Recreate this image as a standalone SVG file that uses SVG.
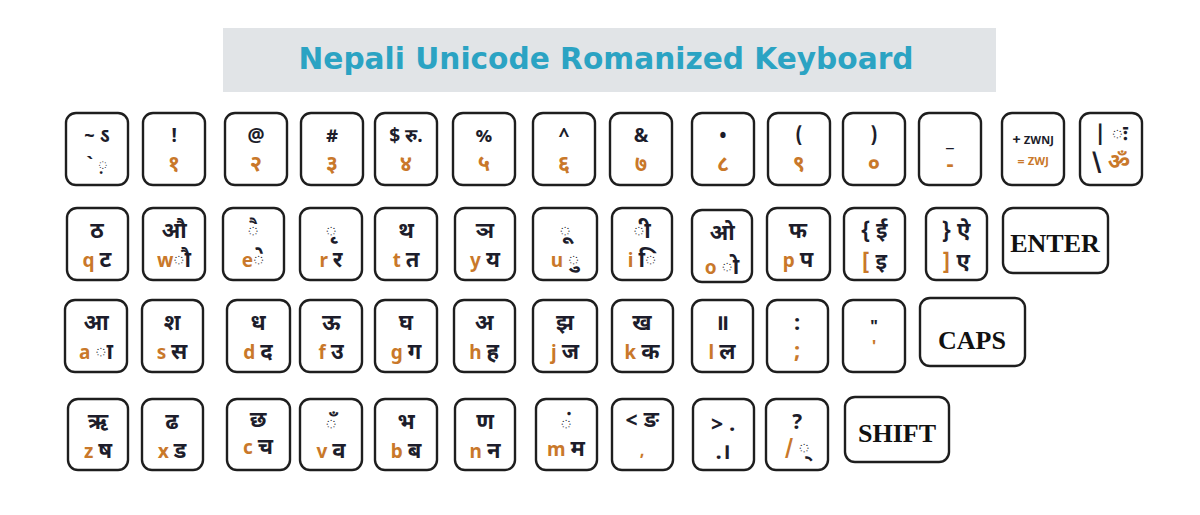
<svg xmlns="http://www.w3.org/2000/svg" width="1200" height="515" viewBox="0 0 1200 515">
<style>
.k{fill:#fff;stroke:#1e1e1e;stroke-width:2.4}
.t{font-family:"Noto Sans Devanagari","Noto Sans","DejaVu Sans",sans-serif;font-size:22px;font-weight:bold;fill:#1d1d2b;text-anchor:middle}
.s{font-size:19px}
.o{fill:#c9782a}
.big{font-family:"Liberation Serif",serif;font-size:26px;font-weight:bold;fill:#111;text-anchor:middle}
.title{font-family:"DejaVu Sans",sans-serif;font-size:30px;font-weight:bold;fill:#2ba3c3;text-anchor:middle}
</style>
<rect width="1200" height="515" fill="#fff"/>
<g id="title">
<rect x="223" y="28" width="773" height="64" fill="#e1e4e7"/>
<text class="title" x="606" y="69" textLength="615" lengthAdjust="spacingAndGlyphs">Nepali Unicode Romanized Keyboard</text>
</g>
<g id="row1">
<g id="k-tilde"><rect class="k" x="66" y="113" width="62" height="72" rx="10"/><text class="t s" x="97" y="142">~ ऽ</text><text class="t s" x="97" y="171">` ़</text></g>
<g id="k-1"><rect class="k" x="143" y="113" width="62" height="72" rx="10"/><text class="t s" x="174" y="142">!</text><text class="t o" x="174" y="171">१</text></g>
<g id="k-2"><rect class="k" x="225" y="113" width="62" height="72" rx="10"/><text class="t s" x="256" y="142">@</text><text class="t o" x="256" y="171">२</text></g>
<g id="k-3"><rect class="k" x="301" y="113" width="62" height="72" rx="10"/><text class="t s" x="332" y="142">#</text><text class="t o" x="332" y="171">३</text></g>
<g id="k-4"><rect class="k" x="375" y="113" width="62" height="72" rx="10"/><text class="t s" x="406" y="142">$ रु.</text><text class="t o" x="406" y="171">४</text></g>
<g id="k-5"><rect class="k" x="453" y="113" width="62" height="72" rx="10"/><text class="t s" x="484" y="142">%</text><text class="t o" x="484" y="171">५</text></g>
<g id="k-6"><rect class="k" x="533" y="113" width="62" height="72" rx="10"/><text class="t s" x="564" y="142">^</text><text class="t o" x="564" y="171">६</text></g>
<g id="k-7"><rect class="k" x="610" y="113" width="62" height="72" rx="10"/><text class="t s" x="641" y="142">&amp;</text><text class="t o" x="641" y="171">७</text></g>
<g id="k-8"><rect class="k" x="692" y="113" width="62" height="72" rx="10"/><text class="t s" x="723" y="142">•</text><text class="t o" x="723" y="171">८</text></g>
<g id="k-9"><rect class="k" x="768" y="113" width="62" height="72" rx="10"/><text class="t s" x="799" y="142">(</text><text class="t o" x="799" y="171">९</text></g>
<g id="k-0"><rect class="k" x="843" y="113" width="62" height="72" rx="10"/><text class="t s" x="874" y="142">)</text><text class="t o" x="874" y="171">०</text></g>
<g id="k-minus"><rect class="k" x="919" y="113" width="62" height="72" rx="10"/><text class="t s" x="950" y="146">_</text><text class="t o" x="950" y="172">-</text></g>
<g id="k-plus"><rect class="k" x="1002" y="113" width="62" height="72" rx="10"/><text class="t" x="1033" y="144" style="font-size:11px"><tspan style="font-size:15px">+</tspan>  ZWNJ</text><text class="t o" x="1033" y="165" style="font-size:11px"><tspan style="font-size:13px">=</tspan>  ZWJ</text></g>
<g id="k-pipe"><rect class="k" x="1080" y="113" width="62" height="72" rx="10"/><text class="t" x="1111" y="141">| ः</text><text class="t" x="1111" y="169"><tspan>\ </tspan><tspan class="o">ॐ</tspan></text></g>
</g>
<g id="row2">
<g id="k-q"><rect class="k" x="67" y="208" width="61" height="72" rx="10"/><text class="t" x="97" y="238">ठ</text><text class="t" x="97" y="267"><tspan class="o s">q </tspan><tspan>ट</tspan></text></g>
<g id="k-w"><rect class="k" x="143" y="208" width="62" height="72" rx="10"/><text class="t" x="174" y="238">औ</text><text class="t" x="174" y="267"><tspan class="o s">w</tspan><tspan>ौ</tspan></text></g>
<g id="k-e"><rect class="k" x="223" y="208" width="61" height="72" rx="10"/><text class="t" x="253" y="238">ै</text><text class="t" x="253" y="267"><tspan class="o s">e</tspan><tspan>े</tspan></text></g>
<g id="k-r"><rect class="k" x="300" y="208" width="62" height="72" rx="10"/><text class="t" x="331" y="238">ृ</text><text class="t" x="331" y="267"><tspan class="o s">r </tspan><tspan>र</tspan></text></g>
<g id="k-t"><rect class="k" x="375" y="208" width="62" height="72" rx="10"/><text class="t" x="406" y="238">थ</text><text class="t" x="406" y="267"><tspan class="o s">t </tspan><tspan>त</tspan></text></g>
<g id="k-y"><rect class="k" x="455" y="208" width="60" height="72" rx="10"/><text class="t" x="485" y="238">ञ</text><text class="t" x="485" y="267"><tspan class="o s">y </tspan><tspan>य</tspan></text></g>
<g id="k-u"><rect class="k" x="533" y="208" width="64" height="72" rx="10"/><text class="t" x="565" y="238">ू</text><text class="t" x="565" y="267"><tspan class="o s">u </tspan><tspan>ु</tspan></text></g>
<g id="k-i"><rect class="k" x="612" y="208" width="60" height="72" rx="10"/><text class="t" x="642" y="238">ी</text><text class="t" x="642" y="267"><tspan class="o s">i </tspan><tspan>ि</tspan></text></g>
<g id="k-o"><rect class="k" x="692" y="210" width="60" height="72" rx="10"/><text class="t" x="722" y="240">ओ</text><text class="t" x="722" y="274"><tspan class="o s">o </tspan><tspan>ो</tspan></text></g>
<g id="k-p"><rect class="k" x="767" y="208" width="63" height="72" rx="10"/><text class="t" x="798" y="238">फ</text><text class="t" x="798" y="267"><tspan class="o s">p </tspan><tspan>प</tspan></text></g>
<g id="k-lbrace"><rect class="k" x="844" y="208" width="61" height="72" rx="10"/><text class="t" x="874" y="238">{ ई</text><text class="t" x="874" y="269"><tspan class="o">[ </tspan><tspan>इ</tspan></text></g>
<g id="k-rbrace"><rect class="k" x="926" y="208" width="61" height="72" rx="10"/><text class="t" x="956" y="238">} ऐ</text><text class="t" x="956" y="269"><tspan class="o">] </tspan><tspan>ए</tspan></text></g>
<g id="k-enter"><rect class="k" x="1003" y="208" width="105" height="65" rx="10"/><text class="big" x="1055" y="252">ENTER</text></g>
</g>
<g id="row3">
<g id="k-a"><rect class="k" x="65" y="300" width="62" height="72" rx="10"/><text class="t" x="96" y="330">आ</text><text class="t" x="96" y="359"><tspan class="o s">a </tspan><tspan>ा</tspan></text></g>
<g id="k-s"><rect class="k" x="142" y="300" width="61" height="72" rx="10"/><text class="t" x="172" y="330">श</text><text class="t" x="172" y="359"><tspan class="o s">s </tspan><tspan>स</tspan></text></g>
<g id="k-d"><rect class="k" x="227" y="300" width="63" height="72" rx="10"/><text class="t" x="258" y="330">ध</text><text class="t" x="258" y="359"><tspan class="o s">d </tspan><tspan>द</tspan></text></g>
<g id="k-f"><rect class="k" x="300" y="300" width="62" height="72" rx="10"/><text class="t" x="331" y="330">ऊ</text><text class="t" x="331" y="359"><tspan class="o s">f </tspan><tspan>उ</tspan></text></g>
<g id="k-g"><rect class="k" x="375" y="300" width="62" height="72" rx="10"/><text class="t" x="406" y="330">घ</text><text class="t" x="406" y="359"><tspan class="o s">g </tspan><tspan>ग</tspan></text></g>
<g id="k-h"><rect class="k" x="454" y="300" width="61" height="72" rx="10"/><text class="t" x="484" y="330">अ</text><text class="t" x="484" y="359"><tspan class="o s">h </tspan><tspan>ह</tspan></text></g>
<g id="k-j"><rect class="k" x="533" y="300" width="64" height="72" rx="10"/><text class="t" x="565" y="330">झ</text><text class="t" x="565" y="359"><tspan class="o s">j </tspan><tspan>ज</tspan></text></g>
<g id="k-k"><rect class="k" x="612" y="300" width="61" height="72" rx="10"/><text class="t" x="642" y="330">ख</text><text class="t" x="642" y="359"><tspan class="o s">k </tspan><tspan>क</tspan></text></g>
<g id="k-l"><rect class="k" x="692" y="300" width="61" height="72" rx="10"/><text class="t" x="722" y="330">॥</text><text class="t" x="722" y="359"><tspan class="o s">l </tspan><tspan>ल</tspan></text></g>
<g id="k-semi"><rect class="k" x="767" y="300" width="61" height="72" rx="10"/><text class="t" x="797" y="330">:</text><text class="t o" x="797" y="358">;</text></g>
<g id="k-quote"><rect class="k" x="843" y="300" width="62" height="72" rx="10"/><text class="t" x="874" y="332" style="font-size:16px">"</text><text class="t o" x="874" y="352" style="font-size:16px">'</text></g>
<g id="k-caps"><rect class="k" x="920" y="298" width="105" height="68" rx="10"/><text class="big" x="972" y="349">CAPS</text></g>
</g>
<g id="row4">
<g id="k-z"><rect class="k" x="68" y="399" width="60" height="71" rx="10"/><text class="t" x="98" y="429">ऋ</text><text class="t" x="98" y="458"><tspan class="o s">z </tspan><tspan>ष</tspan></text></g>
<g id="k-x"><rect class="k" x="142" y="399" width="61" height="71" rx="10"/><text class="t" x="172" y="429">ढ</text><text class="t" x="172" y="458"><tspan class="o s">x </tspan><tspan>ड</tspan></text></g>
<g id="k-c"><rect class="k" x="227" y="399" width="63" height="71" rx="10"/><text class="t" x="258" y="427">छ</text><text class="t" x="258" y="454"><tspan class="o s">c </tspan><tspan>च</tspan></text></g>
<g id="k-v"><rect class="k" x="300" y="399" width="62" height="71" rx="10"/><text class="t" x="331" y="431">ँ</text><text class="t" x="331" y="458"><tspan class="o s">v </tspan><tspan>व</tspan></text></g>
<g id="k-b"><rect class="k" x="375" y="399" width="62" height="71" rx="10"/><text class="t" x="406" y="429">भ</text><text class="t" x="406" y="458"><tspan class="o s">b </tspan><tspan>ब</tspan></text></g>
<g id="k-n"><rect class="k" x="455" y="399" width="60" height="71" rx="10"/><text class="t" x="485" y="429">ण</text><text class="t" x="485" y="458"><tspan class="o s">n </tspan><tspan>न</tspan></text></g>
<g id="k-m"><rect class="k" x="536" y="399" width="61" height="71" rx="10"/><text class="t" x="566" y="431">ं</text><text class="t" x="566" y="456"><tspan class="o s">m </tspan><tspan>म</tspan></text></g>
<g id="k-lt"><rect class="k" x="612" y="399" width="61" height="71" rx="10"/><text class="t" x="642" y="427">&lt; ङ</text><text class="t o" x="642" y="456" style="font-size:16px">,</text></g>
<g id="k-gt"><rect class="k" x="693" y="399" width="61" height="71" rx="10"/><text class="t" x="723" y="431">&gt; .</text><text class="t" x="723" y="459">.।</text></g>
<g id="k-q2"><rect class="k" x="766" y="399" width="62" height="71" rx="10"/><text class="t" x="797" y="429">?</text><text class="t" x="797" y="455"><tspan class="o s">/ </tspan><tspan>्</tspan></text></g>
<g id="k-shift"><rect class="k" x="845" y="397" width="104" height="65" rx="10"/><text class="big" x="897" y="442">SHIFT</text></g>
</g>
</svg>
